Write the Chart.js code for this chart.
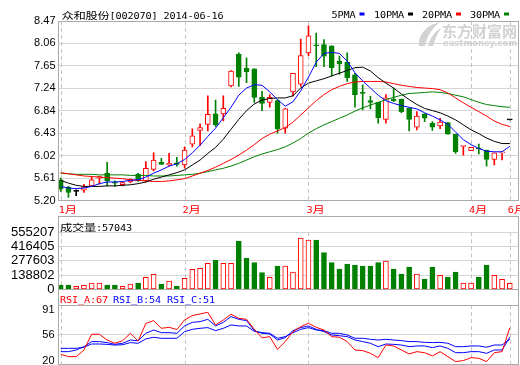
<!DOCTYPE html>
<html>
<head>
<meta charset="utf-8">
<script src="https://cdn.jsdelivr.net/npm/chart.js@4.4.0/dist/chart.umd.min.js"></script>
<style>
html, body { margin: 0; padding: 0; background: #fff; }
#wrap { position: relative; width: 520px; height: 365px; overflow: hidden; }
#wrap canvas { position: absolute; left: 0; top: 0; }
</style>
</head>
<body>
<div id="wrap">
  <canvas id="priceChart" width="520" height="365"></canvas>
  <canvas id="volChart" width="520" height="365"></canvas>
  <canvas id="rsiChart" width="520" height="390"></canvas>
</div>
<script>
// 일봉 데이터
var opens  = [5.58,5.45,5.37,5.39,5.47,5.61,5.70,5.53,5.49,5.54, 5.68,5.56,5.77,5.90,5.85,5.89,5.85,6.23,6.48,6.59,
              6.78,6.78,7.29,7.87,7.61,7.60,7.08,6.99,7.02,6.52, 7.18,7.32,7.89,8.03,8.04,8.02,7.74,7.72,7.49,7.17,
              7.02,6.99,6.68,7.05,7.05,6.88,6.54,6.78,6.61,6.56, 6.62,6.41,6.19,6.11,6.15,6.12,5.95,6.07,6.67];
var highs  = [5.61,5.46,5.40,5.50,5.64,5.65,5.90,5.56,5.54,5.60, 5.70,5.91,6.07,5.97,6.06,5.99,6.18,6.51,6.60,7.11,
              7.03,7.11,7.57,7.89,7.80,7.60,7.19,7.13,7.04,6.88, 7.52,8.14,8.38,8.25,8.13,8.02,7.83,7.89,7.52,7.31,
              7.10,6.99,7.13,7.25,7.05,6.88,6.82,6.78,6.64,6.70, 6.62,6.41,6.20,6.17,6.23,6.12,6.07,6.08,6.67];
var lows   = [5.37,5.26,5.29,5.35,5.46,5.50,5.47,5.46,5.47,5.53, 5.55,5.54,5.74,5.86,5.83,5.83,5.79,6.18,6.20,6.47,
              6.55,6.65,7.27,7.28,7.35,6.99,6.84,6.90,6.43,6.43, 7.10,7.28,7.84,7.64,7.64,7.47,7.50,7.37,6.90,6.85,
              6.87,6.61,6.61,7.00,6.80,6.47,6.49,6.64,6.48,6.51, 6.41,6.06,6.03,6.11,6.05,5.83,5.85,5.94,6.67];
var closes = [5.41,5.35,5.37,5.45,5.58,5.64,5.56,5.52,5.53,5.59, 5.56,5.79,5.94,5.86,5.88,5.86,6.12,6.38,6.53,6.77,
              6.58,6.88,7.56,7.45,7.55,7.08,6.97,7.08,6.51,6.87, 7.52,7.84,8.20,8.02,7.83,7.62,7.69,7.44,7.13,7.15,
              6.99,6.71,7.07,7.02,6.82,6.68,6.74,6.70,6.54,6.63, 6.41,6.09,6.20,6.17,6.14,5.95,6.07,6.08,6.67];
var volumes = [42200,42200,29200,39000,61700,61700,42200,42200,29200,52000,
               61700,116900,146100,52000,81200,32500,107100,194800,204500,253300,
               285700,253300,253300,470800,305200,259700,162300,116900,227300,227300,
               168800,500000,480500,480500,357100,259700,198000,246800,237000,227300,
               227300,259700,276000,198000,149400,217500,149400,100600,217500,136400,
               120100,168800,61700,61700,120100,237000,136400,97400,57043];

// 이동평균선
var ma5  = [5.46,5.43,5.42,5.43,5.46,5.51,5.54,5.54,5.55,5.57, 5.58,5.63,5.70,5.76,5.83,5.87,5.95,6.07,6.21,6.37,
            6.52,6.71,6.90,7.12,7.25,7.31,7.30,7.18,7.04,6.92, 7.00,7.20,7.45,7.72,7.88,7.90,7.88,7.74,7.53,7.38,
            7.25,7.12,7.02,6.97,6.93,6.90,6.87,6.80,6.74,6.67, 6.59,6.45,6.31,6.22,6.15,6.10,6.09,6.09,6.19];
var ma10 = [5.57,5.52,5.48,5.46,5.46,5.46,5.47,5.47,5.48,5.49, 5.51,5.54,5.59,5.63,5.67,5.71,5.76,5.85,5.94,6.06,
            6.17,6.32,6.50,6.68,6.84,6.96,7.03,7.06,7.07,7.07, 7.11,7.25,7.34,7.38,7.42,7.47,7.52,7.57,7.62,7.63,
            7.56,7.44,7.34,7.25,7.14,7.04,6.95,6.88,6.84,6.80, 6.74,6.67,6.58,6.49,6.42,6.34,6.28,6.24,6.24];
var ma20 = [5.71,5.69,5.67,5.65,5.64,5.63,5.62,5.61,5.60,5.58, 5.57,5.56,5.55,5.55,5.56,5.58,5.60,5.65,5.70,5.75,
            5.81,5.88,5.95,6.03,6.12,6.22,6.33,6.41,6.47,6.53, 6.63,6.76,6.89,7.02,7.13,7.22,7.28,7.33,7.36,7.37,
            7.37,7.37,7.36,7.33,7.30,7.28,7.26,7.25,7.24,7.22, 7.16,7.07,6.98,6.90,6.82,6.74,6.65,6.59,6.55];
var ma30 = [5.70,5.69,5.68,5.68,5.68,5.67,5.67,5.67,5.67,5.66, 5.66,5.66,5.65,5.65,5.65,5.66,5.67,5.68,5.70,5.73,
            5.76,5.79,5.83,5.88,5.94,6.00,6.05,6.09,6.13,6.18, 6.25,6.33,6.43,6.51,6.58,6.64,6.70,6.76,6.83,6.89,
            6.94,6.99,7.04,7.08,7.12,7.15,7.16,7.17,7.18,7.17, 7.15,7.12,7.09,7.04,6.99,6.95,6.93,6.91,6.90];

// RSI
var rsiA = [29.2,26,26,35.2,57,57,49,44.5,48,58.3, 47.7,72,75.9,65.2,66.6,63.5,76.8,82.8,85.1,87.4,
            69.9,76.8,84.7,79,77.7,64,52,53.7,36.1,46.8, 60.6,67.5,72.2,66.6,62.9,53.7,52.8,46.8,35.2,34.3,
            30.6,24.6,42.1,40.8,35.2,29.7,32.9,31.5,26.9,32.9, 26,19.1,20.5,24.6,23.7,19.1,31.5,32.9,66];
var rsiB = [32.9,32.9,35.2,39.8,46.8,46.8,45.4,43,44.5,49, 48,58.3,62.9,59.2,59.2,58.3,68.5,73.5,74.5,77.7,
            68.5,73.5,81.4,77.7,75.9,62,58.3,57.4,49,52.3, 62,66.2,68.5,63.8,60.6,56,55,53.7,49,46.8,
            44.5,39.8,43.5,43,42.1,39.8,40.8,40.8,38.5,40.8, 37.5,31.5,31.5,32.9,32.9,30.6,35.2,35.2,53];
var rsiC = [37.5,37.5,37.5,39,43.5,43.5,43,42,42.5,45.4, 44.5,50.5,52.8,51.4,51.4,51.4,60.6,63.8,65.2,66.2,
            62,65.2,69.9,68.5,68.5,61,59.2,58.3,51.4,53.7, 59.2,63.8,66.2,62.9,62,58.3,58.3,56,51.4,51.4,
            50,49,50,49,48.2,46.8,46.8,45.8,45.4,45.8, 44.5,39.8,39.8,40.8,40.8,39,42.1,42.1,50];

// 축 라벨
var monthLabels = ['1月', '2月', '3月', '4月', '6月'];
var monthIdx = [0, 16, 32, 53, 58];
var priceTicks = ['5.20', '5.61', '6.02', '6.43', '6.84', '7.24', '7.65', '8.06', '8.47'];
var volTicks = [0, 138802, 277603, 416405, 555207];
var rsiTicks = [20, 56, 91];
var maNames = ['5PMA', '10PMA', '20PMA', '30PMA'];

var RED = '#ff0000', GREEN = '#008000', BLUE = '#0000ff', BLACK = '#000000';
var maColors = [BLUE, BLACK, RED, GREEN];
var GRID = '#d6d6d6', FRAME = '#a9a9a9', DASH = '#c4c4c4';

var idx = closes.map(function(c, i) { return i; });
function candleColor(i) {
    if (closes[i] > opens[i]) return RED;
    if (closes[i] < opens[i]) return GREEN;
    return BLACK;
}
function series(arr) {
    return arr.map(function(v, i) { return { x: i, y: v }; });
}

// 중국어/영문 혼합 텍스트 (고정폭 12px / 6px)
function drawMixed(ctx, text, x, y, color) {
    ctx.save();
    ctx.fillStyle = color;
    ctx.textBaseline = 'alphabetic';
    ctx.textAlign = 'left';
    for (var k = 0; k < text.length; k++) {
        var ch = text[k];
        var wide = ch.charCodeAt(0) > 255;
        if (ch !== ' ') {
            ctx.save();
            ctx.translate(x, y);
            ctx.scale(wide ? 1.3 : 1.2, 1);
            ctx.font = wide ? '9.5px "Noto Sans CJK SC"' : '8.5px "DejaVu Sans Mono"';
            ctx.fillText(ch, 0, 0);
            ctx.restore();
        }
        x += wide ? 12 : 6;
    }
    ctx.restore();
    return x;
}

// 패널 테두리 + 월 구분 점선
var panelPlugin = {
    id: 'panel',
    beforeDatasetsDraw: function(chart, args, opts) {
        var ctx = chart.ctx, xs = chart.scales.x;
        ctx.save();
        ctx.strokeStyle = DASH;
        ctx.lineWidth = 1;
        ctx.setLineDash([4, 3]);
        monthIdx.forEach(function(m) {
            var px = Math.round(xs.getPixelForValue(m)) + 0.5;
            ctx.beginPath();
            ctx.moveTo(px, opts.dashTop);
            ctx.lineTo(px, opts.dashBottom);
            ctx.stroke();
        });
        ctx.restore();
        if (opts.watermark) {
            ctx.save();
            ctx.fillStyle = '#d2d2d2';
            ctx.beginPath();
            ctx.moveTo(419, 46);
            ctx.bezierCurveTo(418, 34, 427, 25, 440, 22);
            ctx.bezierCurveTo(431, 29, 427, 37, 425, 46);
            ctx.closePath();
            ctx.fill();
            ctx.beginPath();
            ctx.moveTo(428, 46);
            ctx.bezierCurveTo(430, 38, 435, 31, 441, 28);
            ctx.bezierCurveTo(437, 34, 435, 40, 433, 46);
            ctx.closePath();
            ctx.fill();
            ctx.font = 'bold 15px "Noto Sans CJK SC"';
            ctx.textBaseline = 'alphabetic';
            ctx.fillText('东方财富网', 442, 36.5);
            ctx.font = 'bold 9px "DejaVu Sans"';
            var w = ctx.measureText('eastmoney.com').width;
            ctx.translate(443, 46);
            ctx.scale(74 / w, 1);
            ctx.fillText('eastmoney.com', 0, 0);
            ctx.restore();
        }
    },
    afterDraw: function(chart, args, opts) {
        var ctx = chart.ctx, a = chart.chartArea;
        ctx.save();
        ctx.strokeStyle = FRAME;
        ctx.lineWidth = 1;
        ctx.strokeRect(a.left, opts.boxTop, a.right - a.left, opts.boxBottom - opts.boxTop);
        if (opts.innerLine) {
            ctx.beginPath();
            ctx.moveTo(a.left, opts.innerLine);
            ctx.lineTo(a.right, opts.innerLine);
            ctx.stroke();
        }
        ctx.restore();
        if (opts.texts) {
            opts.texts.forEach(function(t) { drawMixed(ctx, t[0], t[1], t[2], t[3]); });
        }
        if (opts.months) {
            var xs = chart.scales.x;
            monthIdx.forEach(function(m, i) {
                drawMixed(ctx, monthLabels[i], xs.getPixelForValue(m) - 2, 213, RED);
            });
        }
        if (opts.legend) {
            var lx = [331.5, 374, 422, 470];
            maNames.forEach(function(n, i) {
                var end = drawMixed(ctx, n, lx[i], 17.5, BLACK);
                ctx.fillStyle = maColors[i];
                ctx.fillRect(end + 4, 12.5, 5, 3);
            });
        }
    }
};

function fixWidth(scale) { scale.width = 58.5; }
var xOpts = { type: 'linear', display: false, min: -0.284, max: 59.124, offset: false };
var common = { legend: { display: false }, tooltip: { enabled: false } };

// 가격 차트 (캔들 + 이동평균)
var priceDatasets = maColors.map(function(c, i) {
    return { type: 'line', data: series([ma5, ma10, ma20, ma30][i]), borderColor: c, borderWidth: 1,
             pointRadius: 0, tension: 0, order: 0 };
});
priceDatasets.push({
    type: 'bar',
    data: idx.map(function(i) { return { x: i, y: [opens[i], closes[i]] }; }),
    backgroundColor: idx.map(function(i) { return closes[i] > opens[i] ? '#ffffff' : candleColor(i); }),
    borderColor: idx.map(candleColor),
    borderWidth: 1, borderSkipped: false, barThickness: 5, minBarLength: 1, grouped: false, order: 2
});
priceDatasets.push({
    type: 'bar',
    data: idx.map(function(i) { return { x: i, y: [lows[i], highs[i]] }; }),
    backgroundColor: idx.map(candleColor),
    borderWidth: 0, barThickness: 1, grouped: false, order: 3
});

new Chart(document.getElementById('priceChart'), {
    type: 'bar',
    data: { datasets: priceDatasets },
    options: {
        responsive: false, animation: false, events: [],
        layout: { padding: { left: 0, right: 1.5, top: 21, bottom: 164.3 } },
        scales: {
            x: xOpts,
            y: {
                min: 5.20, max: 8.47, afterFit: fixWidth,
                afterBuildTicks: function(s) {
                    s.ticks = priceTicks.map(function(t, i) {
                        return { value: 5.20 + i * (8.47 - 5.20) / (priceTicks.length - 1) };
                    });
                },
                ticks: { autoSkip: false, padding: 3, color: BLACK, font: { family: 'Liberation Sans', size: 11 },
                         callback: function(v, i) { return priceTicks[i]; } },
                grid: { color: GRID, drawTicks: false },
                border: { display: false }
            }
        },
        plugins: Object.assign({
            panel: { dashTop: 21, dashBottom: 200.7, boxTop: 21.5, boxBottom: 200.5, watermark: true,
                     months: true, legend: true,
                     texts: [['众和股份[002070] 2014-06-16', 61.5, 18.5, BLACK]] }
        }, common)
    },
    plugins: [panelPlugin]
});

// 거래량 차트
new Chart(document.getElementById('volChart'), {
    type: 'bar',
    data: { datasets: [{
        data: idx.map(function(i) { return { x: i, y: volumes[i] }; }),
        backgroundColor: idx.map(function(i) { return closes[i] >= opens[i] ? '#ffffff' : GREEN; }),
        borderColor: idx.map(function(i) { return closes[i] >= opens[i] ? RED : GREEN; }),
        borderWidth: 1, borderSkipped: false, barThickness: 5, grouped: false
    }] },
    options: {
        responsive: false, animation: false, events: [],
        layout: { padding: { left: 0, right: 1.5, top: 216, bottom: 75.7 } },
        scales: {
            x: xOpts,
            y: {
                min: 0, max: 714000, afterFit: fixWidth,
                afterBuildTicks: function(s) { s.ticks = volTicks.map(function(v) { return { value: v }; }); },
                ticks: { autoSkip: false, padding: 4, color: BLACK, font: { family: 'Liberation Sans', size: 13 },
                         callback: function(v) { return String(v); } },
                grid: { color: GRID, drawTicks: false },
                border: { display: false }
            }
        },
        plugins: Object.assign({
            panel: { dashTop: 232.3, dashBottom: 289.3, boxTop: 216.5, boxBottom: 289.5,
                     texts: [['成交量:' + volumes[volumes.length - 1], 60, 231, BLACK]] }
        }, common)
    },
    plugins: [panelPlugin]
});

// RSI 차트 (캔버스를 조금 길게 잡아 아래 라벨 여백 확보)
new Chart(document.getElementById('rsiChart'), {
    type: 'line',
    data: { datasets: [
        { data: series(rsiA), borderColor: RED, borderWidth: 1, pointRadius: 0, tension: 0 },
        { data: series(rsiB), borderColor: BLUE, borderWidth: 1, pointRadius: 0, tension: 0 },
        { data: series(rsiC), borderColor: BLUE, borderWidth: 1, pointRadius: 0, tension: 0 }
    ] },
    options: {
        responsive: false, animation: false, events: [],
        layout: { padding: { left: 0, right: 1.5, top: 305, bottom: 26 } },
        scales: {
            x: xOpts,
            y: {
                min: 15.8, max: 97.5, afterFit: fixWidth,
                afterBuildTicks: function(s) { s.ticks = rsiTicks.map(function(v) { return { value: v }; }); },
                ticks: { autoSkip: false, padding: 4, color: BLACK, font: { family: 'Liberation Sans', size: 11 },
                         callback: function(v) { return String(v); } },
                grid: { drawTicks: false, color: function(c) { return c.tick && c.tick.value === 56 ? GRID : 'rgba(0,0,0,0)'; } },
                border: { display: false }
            }
        },
        plugins: Object.assign({
            panel: { dashTop: 305, dashBottom: 364, boxTop: 289.5, boxBottom: 364.5, innerLine: 305.5,
                     texts: [['RSI_A:67', 60, 302.5, RED], ['RSI_B:54', 113, 302.5, BLUE], ['RSI_C:51', 167, 302.5, BLUE]] }
        }, common)
    },
    plugins: [panelPlugin]
});
</script>
</body>
</html>
